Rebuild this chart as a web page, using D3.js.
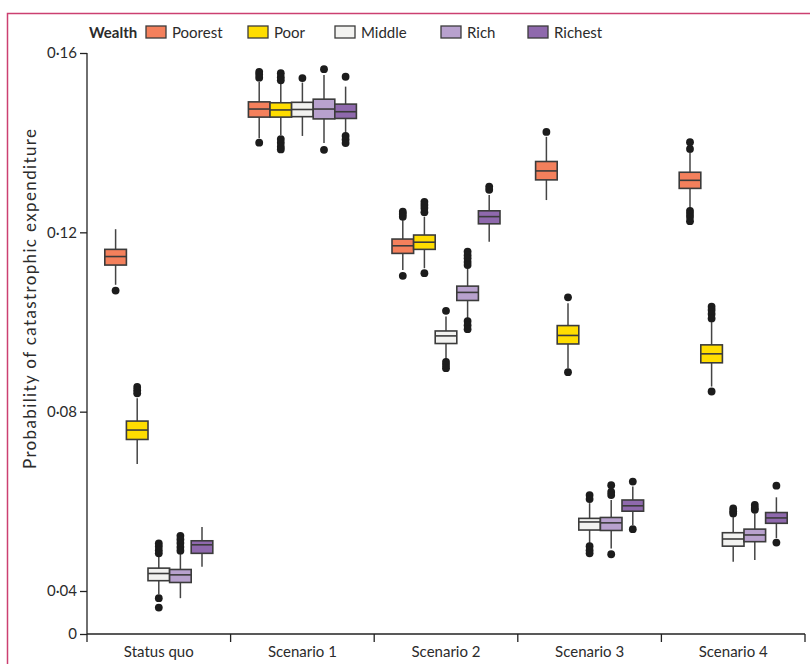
<!DOCTYPE html>
<html lang="en">
<head>
<meta charset="UTF-8">
<title>Probability of catastrophic expenditure by wealth quintile</title>
<script src="https://d3js.org/d3.v7.min.js"></script>
<style>
  body { margin: 0; background: #fff; }
  text { font-family: Lato, "Liberation Sans", sans-serif; fill: #2b2b2b; }
</style>
</head>
<body>
<svg id="chart" width="810" height="664"></svg>
<script>
// categories and wealth groups
var categories = ["Status quo", "Scenario 1", "Scenario 2", "Scenario 3", "Scenario 4"];
var groups = ["Poorest", "Poor", "Middle", "Rich", "Richest"];
var yTicks = [0, 0.04, 0.08, 0.12, 0.16];

// box stats per category: [whisker low, q1, median, q3, whisker high]
var poorestStats = [
  [0.1083, 0.1127, 0.1146, 0.1162, 0.1207],
  [0.1410, 0.1457, 0.1475, 0.1491, 0.1536],
  [0.1116, 0.1153, 0.1170, 0.1185, 0.1228],
  [0.1272, 0.1317, 0.1337, 0.1358, 0.1413],
  [0.1254, 0.1298, 0.1316, 0.1334, 0.1380]
];
var poorStats = [
  [0.0683, 0.0738, 0.0759, 0.0779, 0.0830],
  [0.1417, 0.1457, 0.1473, 0.1489, 0.1532],
  [0.1120, 0.1162, 0.1178, 0.1194, 0.1235],
  [0.0897, 0.0951, 0.0970, 0.0992, 0.1042],
  [0.0856, 0.0909, 0.0929, 0.0949, 0.1004]
];
var middleStats = [
  [0.0393, 0.0423, 0.0439, 0.0451, 0.0480],
  [0.1415, 0.1458, 0.1474, 0.1490, 0.1534],
  [0.0915, 0.0952, 0.0969, 0.0980, 0.1012],
  [0.0506, 0.0536, 0.0554, 0.0562, 0.0596],
  [0.0465, 0.0500, 0.0516, 0.0530, 0.0570]
];
var richStats = [
  [0.0384, 0.0419, 0.0436, 0.0448, 0.0484],
  [0.1399, 0.1453, 0.1475, 0.1497, 0.1551],
  [0.1008, 0.1048, 0.1066, 0.1080, 0.1120],
  [0.0495, 0.0535, 0.0552, 0.0564, 0.0603],
  [0.0469, 0.0510, 0.0525, 0.0538, 0.0573]
];
var richestStats = [
  [0.0454, 0.0484, 0.0503, 0.0512, 0.0543],
  [0.1422, 0.1454, 0.1469, 0.1486, 0.1525],
  [0.1179, 0.1219, 0.1235, 0.1248, 0.1283],
  [0.0547, 0.0578, 0.0590, 0.0603, 0.0633],
  [0.0518, 0.0551, 0.0563, 0.0575, 0.0609]
];

// outliers per category
var poorestOutliers = [
  [0.1070],
  [0.1558, 0.1552, 0.1545, 0.1400],
  [0.1246, 0.1241, 0.1235, 0.1103],
  [0.1424],
  [0.1401, 0.1386, 0.1248, 0.1241, 0.1234, 0.1225]
];
var poorOutliers = [
  [0.0855, 0.0848, 0.0841],
  [0.1555, 0.1546, 0.1539, 0.1408, 0.1400, 0.1391, 0.1385],
  [0.1268, 0.1261, 0.1254, 0.1245, 0.1109],
  [0.1055, 0.0888],
  [0.1034, 0.1027, 0.1018, 0.1008, 0.0845]
];
var middleOutliers = [
  [0.0506, 0.0499, 0.0491, 0.0484, 0.0384, 0.0363],
  [0.1544],
  [0.1025, 0.0911, 0.0904, 0.0897],
  [0.0614, 0.0605, 0.0500, 0.0491, 0.0484],
  [0.0584, 0.0578, 0.0573]
];
var richOutliers = [
  [0.0523, 0.0515, 0.0507, 0.0498, 0.0490],
  [0.1564, 0.1384],
  [0.1157, 0.1149, 0.1142, 0.1134, 0.1127, 0.1002, 0.0993, 0.0984],
  [0.0636, 0.0621, 0.0614, 0.0482],
  [0.0592, 0.0585, 0.0581]
];
var richestOutliers = [
  [],
  [0.1547, 0.1415, 0.1407, 0.1399],
  [0.1302, 0.1295],
  [0.0644, 0.0538],
  [0.0635, 0.0508]
];

var groupColors = ["#f4805c", "#ffdd00", "#f2f2f0", "#b8a1ce", "#8f69ad"];

var allStats = [poorestStats, poorStats, middleStats, richStats, richestStats];
var allOutliers = [poorestOutliers, poorOutliers, middleOutliers, richOutliers, richestOutliers];

// flatten into one record per box
var boxes = [];
groups.forEach(function(g, gi) {
  categories.forEach(function(c, ci) {
    var s = allStats[gi][ci];
    boxes.push({ group: g, category: c, lo: s[0], q1: s[1], med: s[2], q3: s[3], hi: s[4],
                 outliers: allOutliers[gi][ci] });
  });
});

var svg = d3.select("#chart");
var plotLeft = 87, plotRight = 805, plotTop = 53, plotBottom = 634;
var y04 = 591; // the axis is broken between 0 and 0.04

// data scale (0.04 to 0.16) and axis scale that also shows 0
var y = d3.scaleLinear().domain([0.04, 0.16]).range([y04, plotTop]);
var yAxisScale = d3.scaleLinear().domain([0, 0.04, 0.16]).range([plotBottom, y04, plotTop]);

var x = d3.scaleBand().domain(categories).range([plotLeft, plotRight]).padding(0);
var boxW = 21.6;
var xInner = d3.scaleBand().domain(groups)
  .range([(x.bandwidth() - boxW * 5) / 2, (x.bandwidth() + boxW * 5) / 2]).padding(0);
var color = d3.scaleOrdinal().domain(groups).range(groupColors);

// pink frame
svg.append("path")
   .attr("d", "M7.5,664 V13.5 H810")
   .attr("fill", "none")
   .attr("stroke", "#cc4071")
   .attr("stroke-width", 1.5);

// y axis
var fmt = function(d) { return d === 0 ? "0" : d3.format(".2f")(d).replace(".", "\u00b7"); };
var yAxis = svg.append("g")
   .attr("transform", "translate(" + plotLeft + ",0)")
   .call(d3.axisLeft(yAxisScale).tickValues(yTicks).tickFormat(fmt).tickSize(7).tickPadding(3));
yAxis.select(".domain").attr("d", "M0," + plotTop + "V" + plotBottom).attr("stroke", "#222").attr("stroke-width", 1.3);
yAxis.selectAll(".tick line").attr("stroke", "#222").attr("stroke-width", 1.3);
yAxis.selectAll(".tick text").style("font-size", "15px").attr("fill", "#2b2b2b")
   .style("font-family", "Lato, sans-serif");

// x axis
var xAxis = svg.append("g")
   .attr("transform", "translate(0," + plotBottom + ")")
   .call(d3.axisBottom(x).tickSize(0).tickPadding(12));
xAxis.select(".domain").remove();
xAxis.selectAll(".tick text").style("font-size", "15px").attr("fill", "#2b2b2b")
   .style("font-family", "Lato, sans-serif");
xAxis.append("line")
   .attr("x1", plotLeft).attr("x2", plotRight)
   .attr("stroke", "#222").attr("stroke-width", 1.3);
var edges = categories.map(function(c) { return x(c); }).concat([x(categories[categories.length - 1]) + x.bandwidth()]);
xAxis.selectAll(".edge")
   .data(edges)
   .enter().append("line")
   .attr("class", "edge")
   .attr("x1", function(d) { return d; })
   .attr("x2", function(d) { return d; })
   .attr("y1", 0).attr("y2", 8)
   .attr("stroke", "#222").attr("stroke-width", 1.3);

// y axis title
svg.append("text")
   .attr("transform", "translate(36,299) rotate(-90)")
   .attr("text-anchor", "middle")
   .attr("textLength", 340)
   .attr("lengthAdjust", "spacing")
   .style("font-size", "17px")
   .text("Probability of catastrophic expenditure");

// boxes
var bx = svg.append("g").selectAll("g")
   .data(boxes)
   .enter().append("g")
   .attr("transform", function(d) { return "translate(" + (x(d.category) + xInner(d.group)) + ",0)"; });

var cx = xInner.bandwidth() / 2;

bx.append("line")
   .attr("x1", cx).attr("x2", cx)
   .attr("y1", function(d) { return y(d.hi); })
   .attr("y2", function(d) { return y(d.lo); })
   .attr("stroke", "#444").attr("stroke-width", 1.5);

bx.append("rect")
   .attr("x", 0)
   .attr("width", xInner.bandwidth())
   .attr("y", function(d) { return y(d.q3); })
   .attr("height", function(d) { return y(d.q1) - y(d.q3); })
   .attr("fill", function(d) { return color(d.group); })
   .attr("stroke", "#3b3b3b").attr("stroke-width", 1.6);

bx.append("line")
   .attr("x1", 0).attr("x2", xInner.bandwidth())
   .attr("y1", function(d) { return y(d.med); })
   .attr("y2", function(d) { return y(d.med); })
   .attr("stroke", "#3b3b3b").attr("stroke-width", 1.6);

bx.selectAll("circle")
   .data(function(d) { return d.outliers; })
   .enter().append("circle")
   .attr("cx", cx)
   .attr("cy", function(d) { return y(d); })
   .attr("r", 3.9)
   .attr("fill", "#1c1c1c");

// legend
var legendX = [146, 248, 335, 441, 528];
svg.append("text")
   .attr("x", 89).attr("y", 37.5)
   .style("font-size", "15px").style("font-weight", "bold")
   .text("Wealth");
var legend = svg.selectAll(".legend")
   .data(groups)
   .enter().append("g")
   .attr("class", "legend")
   .attr("transform", function(d, i) { return "translate(" + legendX[i] + ",26)"; });
legend.append("rect")
   .attr("width", 20).attr("height", 12)
   .attr("fill", color)
   .attr("stroke", "#3b3b3b").attr("stroke-width", 1.3);
legend.append("text")
   .attr("x", 26).attr("y", 11.5)
   .style("font-size", "15px")
   .text(function(d) { return d; });
</script>
</body>
</html>
